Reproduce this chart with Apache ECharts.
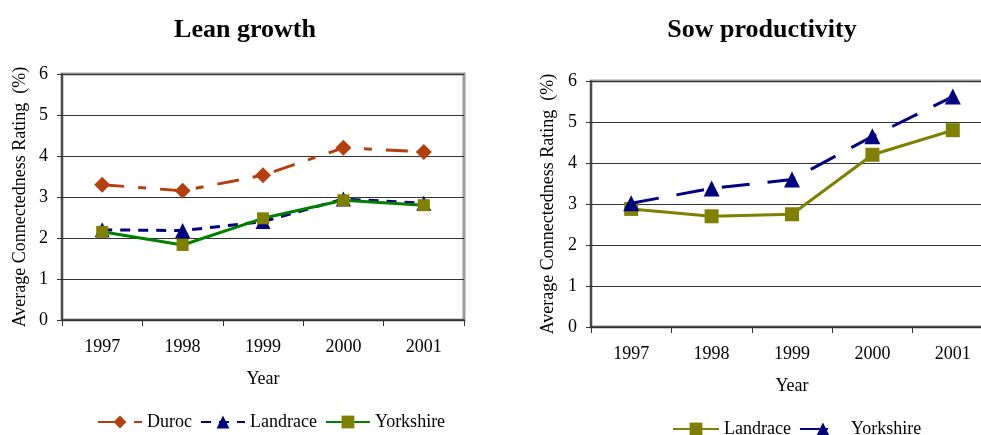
<!DOCTYPE html>
<html>
<head>
<meta charset="utf-8">
<script src="https://cdn.jsdelivr.net/npm/echarts@6/dist/echarts.min.js"></script>
<style>
  body { margin: 0; background: #fff; }
  #left, #right { position: absolute; top: 0; height: 435px; }
  #left { left: 0; width: 490px; }
  #right { left: 490px; width: 491px; }
</style>
</head>
<body>
<div id="left"></div>
<div id="right"></div>
<script>
"use strict";

const years = ["1997", "1998", "1999", "2000", "2001"];
const yTicks = [0, 1, 2, 3, 4, 5, 6];

// Lean growth
const leanDuroc = [3.3, 3.15, 3.53, 4.2, 4.1];
const leanLandrace = [2.2, 2.18, 2.4, 2.95, 2.85];
const leanYorkshire = [2.15, 1.83, 2.48, 2.92, 2.8];

// Sow productivity
const sowLandrace = [2.88, 2.7, 2.75, 4.2, 4.8];
const sowYorkshire = [3.02, 3.38, 3.6, 4.65, 5.62];

const FONT = "Liberation Serif";
const yName = "Average Connectedness Rating  (%)";

function axes(gridLeft, gridTop, yNameGap, xNameGap) {
    return {
        grid: {
            left: gridLeft, top: gridTop, width: 402, height: 246,
            outerBoundsMode: "none",
            show: true, borderColor: "#999", borderWidth: 3, backgroundColor: "transparent"
        },
        xAxis: {
            type: "category",
            data: years,
            boundaryGap: true,
            name: "Year",
            nameLocation: "middle",
            nameGap: xNameGap,
            nameMoveOverlap: false,
            nameTextStyle: { fontFamily: FONT, fontSize: 18, color: "#000" },
            axisLine: { lineStyle: { color: "#333", width: 1.5 } },
            axisTick: { show: true, length: 6, inside: false, lineStyle: { color: "#333" } },
            axisLabel: { fontFamily: FONT, fontSize: 18, color: "#000", margin: 18 },
            splitLine: { show: false }
        },
        yAxis: {
            type: "value",
            min: yTicks[0],
            max: yTicks[yTicks.length - 1],
            interval: 1,
            name: yName,
            nameLocation: "middle",
            nameGap: yNameGap,
            nameMoveOverlap: false,
            nameTextStyle: { fontFamily: FONT, fontSize: 18, color: "#000" },
            axisLine: { show: true, lineStyle: { color: "#333", width: 1.5 } },
            axisTick: { show: true, length: 5, lineStyle: { color: "#333" } },
            axisLabel: { fontFamily: FONT, fontSize: 18, color: "#000", margin: 14 },
            splitLine: { show: true, lineStyle: { color: "#333", width: 1 } }
        }
    };
}

function titleOf(text, center) {
    return {
        text: text,
        left: center,
        top: 12,
        textAlign: "center",
        textStyle: { fontFamily: FONT, fontSize: 26, fontWeight: "bold", color: "#000" }
    };
}

const legendText = { fontFamily: FONT, fontSize: 18, color: "#000" };

const leftChart = echarts.init(document.getElementById("left"));
const leftAxes = axes(62, 74, 33, 50);
leftChart.setOption({
    animation: false,
    title: titleOf("Lean growth", 240),
    legend: {
        left: 92, top: 408,
        itemWidth: 44, itemHeight: 16, itemGap: 8,
        textStyle: legendText,
        data: ["Duroc", "Landrace", "Yorkshire"]
    },
    grid: leftAxes.grid,
    xAxis: leftAxes.xAxis,
    yAxis: leftAxes.yAxis,
    series: [
        {
            name: "Duroc", type: "line", data: leanDuroc,
            symbol: "diamond", symbolSize: 16, z: 3,
            color: "#b5400f",
            lineStyle: { color: "#b5400f", width: 3, type: [22, 14, 8, 14] },
            itemStyle: { color: "#b5400f" }
        },
        {
            name: "Landrace", type: "line", data: leanLandrace,
            symbol: "triangle", symbolSize: 15, z: 3,
            color: "#000080",
            lineStyle: { color: "#000080", width: 3, type: [10, 8] },
            itemStyle: { color: "#000080" }
        },
        {
            name: "Yorkshire", type: "line", data: leanYorkshire,
            symbol: "rect", symbolSize: 12, z: 4,
            color: "#008000",
            lineStyle: { color: "#008000", width: 3 },
            itemStyle: { color: "#808000" }
        }
    ]
});

const rightChart = echarts.init(document.getElementById("right"));
const rightAxes = axes(101, 81, 34, 50);
rightChart.setOption({
    animation: false,
    title: titleOf("Sow productivity", 267),
    legend: {
        left: 177, top: 415,
        itemWidth: 46, itemHeight: 16, itemGap: 8,
        textStyle: legendText,
        data: ["Landrace", "Yorkshire"]
    },
    grid: rightAxes.grid,
    xAxis: rightAxes.xAxis,
    yAxis: rightAxes.yAxis,
    series: [
        {
            name: "Landrace", type: "line", data: sowLandrace,
            symbol: "rect", symbolSize: 14, z: 3,
            color: "#808000",
            lineStyle: { color: "#808000", width: 3 },
            itemStyle: { color: "#808000" }
        },
        {
            name: "Yorkshire", type: "line", data: sowYorkshire,
            symbol: "triangle", symbolSize: 16, z: 4,
            color: "#000080",
            lineStyle: { color: "#000080", width: 3, type: [28, 18] },
            itemStyle: { color: "#000080" }
        }
    ]
});

window.addEventListener("resize", () => { leftChart.resize(); rightChart.resize(); });
</script>
</body>
</html>
